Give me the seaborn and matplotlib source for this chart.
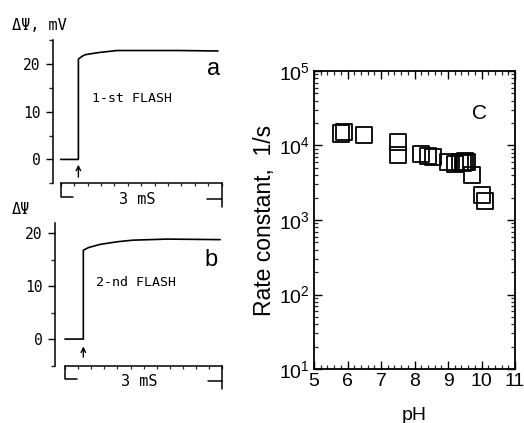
import matplotlib
matplotlib.use("Agg")
import matplotlib.pyplot as plt
import matplotlib.ticker as mticker
import numpy as np
import pandas as pd
import seaborn as sns

# ---------------- data ----------------
# panel a: 1st flash trace (time in ms, potential in mV)
a_time = [0.0, 0.33, 0.33, 0.40, 0.45, 0.55, 0.73, 1.05, 1.5, 2.2, 2.93]
a_mV = [0.0, 0.0, 21.0, 21.6, 21.9, 22.1, 22.4, 22.8, 22.8, 22.8, 22.7]
# panel b: 2nd flash trace
b_time = [0.0, 0.35, 0.35, 0.45, 0.67, 1.0, 1.3, 1.95, 2.96]
b_mV = [0.0, 0.0, 16.8, 17.3, 17.9, 18.4, 18.7, 18.9, 18.8]
# panel c: rate constant vs pH
c_pH = [5.8, 5.9, 6.5, 7.52, 7.52, 8.2, 8.4, 8.55, 9.0, 9.2, 9.35, 9.45, 9.5, 9.57, 9.72, 10.02, 10.1]
c_rate = [1.45e4, 1.5e4, 1.38e4, 1.1e4, 7.5e3, 7.7e3, 7.3e3, 7.0e3, 6.0e3, 5.7e3, 6.0e3, 5.9e3, 6.1e3, 6.0e3, 4.0e3, 2.15e3, 1.8e3]
c_xticks = [5, 6, 7, 8, 9, 10, 11]
c_yticks = [1e1, 1e2, 1e3, 1e4, 1e5]
c_ytick_labels = [r"$\mathregular{10^{1}}$", r"$\mathregular{10^{2}}$", r"$\mathregular{10^{3}}$",
                  r"$\mathregular{10^{4}}$", r"$\mathregular{10^{5}}$"]
ab_yticks = [0, 10, 20]

sns.set_theme(style="white")
plt.rcParams["font.family"] = ["DejaVu Sans Mono", "DejaVu Sans"]
plt.rcParams["axes.linewidth"] = 1.1

W, H = 524, 423
fig = plt.figure(figsize=(W / 100, H / 100), dpi=100)
fig.patch.set_facecolor("white")

def px_ax(l, t, r, b):
    return fig.add_axes([l / W, 1 - b / H, (r - l) / W, (b - t) / H])

mono = ["DejaVu Sans Mono", "DejaVu Sans"]
narrow = ["Liberation Sans Narrow", "Liberation Sans", "DejaVu Sans"]

def trace_panel(ax, t, v, ylim, xleft, flash_txt, flash_pos, letter, letter_pos, arrow_y):
    df = pd.DataFrame({"t": t, "v": v})
    sns.lineplot(data=df, x="t", y="v", ax=ax, estimator=None, sort=False,
                 color="black", linewidth=1.2)
    ax.set_xlim(xleft, 3.0)
    ax.set_ylim(*ylim)
    ax.set_xlabel("")
    ax.set_ylabel("")
    for s in ["top", "right"]:
        ax.spines[s].set_visible(False)
    ax.spines["left"].set_color("black")
    ax.spines["bottom"].set_color("black")
    ax.spines["bottom"].set_bounds(0, 3.0)
    ax.set_yticks(ab_yticks)
    ax.yaxis.set_minor_locator(mticker.MultipleLocator(5))
    ax.tick_params(axis="y", which="major", direction="out", length=5, width=1.0,
                   left=True, pad=4, labelsize=10.5, colors="black")
    ax.tick_params(axis="y", which="minor", direction="out", length=3, width=1.0, left=True)
    for lab in ax.get_yticklabels():
        lab.set_family(mono)
    ax.set_xticks([])
    ax.xaxis.set_minor_locator(mticker.MultipleLocator(0.25))
    ax.tick_params(axis="x", which="minor", direction="out", length=2.0, width=0.9,
                   bottom=True, top=False)
    # scale bracket below time axis
    y0 = ylim[0]
    span = ylim[1] - ylim[0]
    d = span / 143.0  # data units per pixel (approx)
    ax.plot([0, 0, 0.23], [y0, y0 - 14 * d, y0 - 14 * d], color="black", lw=1.1, clip_on=False)
    ax.plot([2.72, 3.0, 3.0], [y0 - 16 * d, y0 - 16 * d, y0 - 24 * d], color="black", lw=1.1, clip_on=False)
    ax.plot([3.0, 3.0], [y0, y0 - 16 * d], color="black", lw=1.1, clip_on=False)
    ax.text(1.42, y0 - 16 * d, "3 mS", ha="center", va="center", fontsize=11,
            family=mono, color="black", clip_on=False)
    # flash arrow
    ax.annotate("", xy=(t[1], arrow_y[1]), xytext=(t[1], arrow_y[0]),
                arrowprops=dict(arrowstyle="->", color="black", lw=1.0,
                                shrinkA=0, shrinkB=0, mutation_scale=8),
                annotation_clip=False)
    ax.text(flash_pos[0], flash_pos[1], flash_txt, ha="left", va="center",
            fontsize=9.5, family=mono, color="black")
    ax.text(letter_pos[0], letter_pos[1], letter, ha="center", va="center",
            fontsize=17, family=narrow, color="black")
    ax.set_facecolor("white")

# panel a
axa = px_ax(53, 40, 221.7, 183.3)
trace_panel(axa, a_time, a_mV, (-5, 25), -0.143, "1-st FLASH", (0.58, 12.8),
            "a", (2.85, 18.9), (-3.7, -1.1))
# panel b
axb = px_ax(55, 222.7, 222.3, 365.5)
trace_panel(axb, b_time, b_mV, (-5, 22), -0.19, "2-nd FLASH", (0.59, 10.6),
            "b", (2.78, 15.0), (-3.4, -1.4))

fig.text(12 / W, 1 - 25 / H, "ΔΨ, mV", ha="left", va="center", fontsize=11,
         family=mono, color="black")
fig.text(12 / W, 1 - 209 / H, "ΔΨ", ha="left", va="center", fontsize=11,
         family=mono, color="black")

# panel c
axc = px_ax(314, 71, 515, 369)
dfc = pd.DataFrame({"pH": c_pH, "rate": c_rate})
sns.scatterplot(data=dfc, x="pH", y="rate", ax=axc, marker="s", s=135,
                color="black", linewidth=1.3, legend=False)
for coll in axc.collections:
    coll.set_facecolor("none")
    coll.set_edgecolor("black")
axc.set_yscale("log")
axc.set_xlim(5, 11)
axc.set_ylim(1e1, 1e5)
axc.set_xticks(c_xticks)
axc.set_xticklabels([str(v) for v in c_xticks])
axc.set_yticks(c_yticks)
axc.set_yticklabels(c_ytick_labels)
axc.xaxis.set_minor_locator(mticker.MultipleLocator(0.2))
axc.yaxis.set_minor_locator(mticker.LogLocator(base=10, subs=np.arange(2, 10)))
axc.yaxis.set_minor_formatter(mticker.NullFormatter())
axc.tick_params(which="major", direction="in", length=6, width=1.0, top=True, right=True,
                bottom=True, left=True, labelsize=14, colors="black", pad=3)
axc.tick_params(which="minor", direction="in", length=3, width=0.9, top=True, right=True,
                bottom=True, left=True)
for lab in axc.get_xticklabels() + axc.get_yticklabels():
    lab.set_family(narrow)
for s in axc.spines.values():
    s.set_visible(True)
    s.set_color("black")
    s.set_linewidth(1.3)
axc.set_xlabel("pH", fontsize=14, family=narrow, color="black", labelpad=12)
axc.set_ylabel("Rate constant,  1/s", fontsize=16.5, family=narrow, color="black", labelpad=2)
axc.text(9.95, 2.7e4, "C", ha="center", va="center", fontsize=15, family=narrow, color="black")
axc.set_facecolor("white")

fig.savefig("out.png", dpi=100, facecolor="white")
